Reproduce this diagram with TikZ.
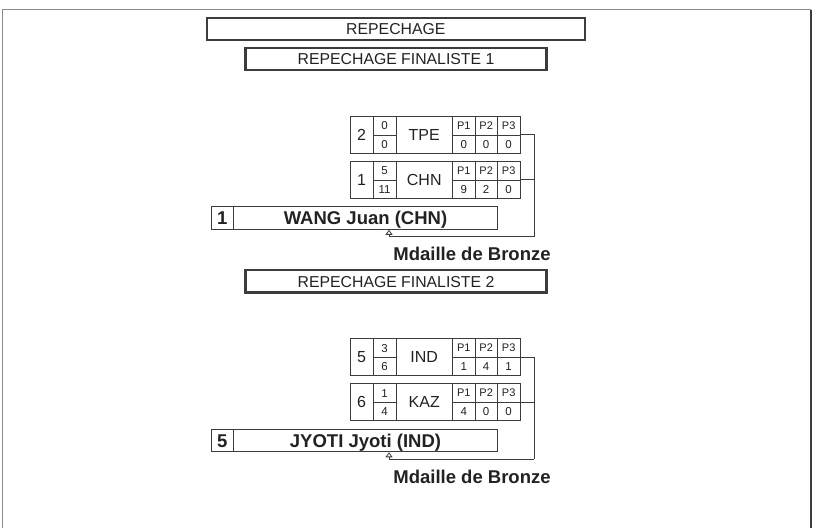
\documentclass[tikz,border=0pt]{standalone}
\usepackage{fontspec}
\setmainfont{Liberation Sans}
\usetikzlibrary{arrows.meta}
\definecolor{ln}{HTML}{3C3C3C}
\definecolor{tx}{HTML}{222222}
\definecolor{fr}{HTML}{8A8A8A}
\tikzset{
 hdr/.style={draw=ln, line width=2.2pt, inner sep=0pt, font=\fontsize{15.8}{18}\selectfont, text=tx, text height=11.3pt, text depth=0pt},
 tbl/.style={draw=ln, line width=0.9pt, inner sep=0pt, minimum width=170pt, minimum height=37.3pt},
 cell/.style={line width=0.9pt, draw=ln},
 big/.style={inner sep=0pt, font=\fontsize{16}{18}\selectfont, text=tx, text height=11.5pt, text depth=0pt},
 sml/.style={inner sep=0pt, font=\fontsize{11.5}{13}\selectfont, text=tx, text height=8.2pt, text depth=0pt},
 hsml/.style={inner sep=0pt, font=\fontsize{11}{13}\selectfont, text=tx, text height=7.9pt, text depth=0pt},
 bold/.style={inner sep=0pt, font=\bfseries\fontsize{18.5}{21}\selectfont, text=tx, text height=13.2pt, text depth=0pt},
 namebox/.style={draw=ln, line width=0.9pt, inner sep=0pt, minimum height=22.6pt, font=\bfseries\fontsize{18.5}{21}\selectfont, text=tx, text height=13.2pt, text depth=0pt},
 conn/.style={draw=ln, line width=0.9pt},
 tip/.style={-{Triangle[open,width=7pt,length=5pt,line width=0.8pt]}},
}
% #1 name, #2 top y, #3 seed, #4 s1, #5 s2, #6 code, #7 p1, #8 p2, #9 p3
\newcommand\mtable[9]{%
 \node[tbl] (#1) at (435,#2+18.65) {};
 \draw[cell] (373,#2) -- (373,#2+37.3) (396,#2) -- (396,#2+37.3)
   (452.5,#2) -- (452.5,#2+37.3) (475,#2) -- (475,#2+37.3) (497.3,#2) -- (497.3,#2+37.3);
 \draw[cell] (373,#2+19) -- (396,#2+19) (452.5,#2+19) -- (520,#2+19);
 \node[big] (#1-seed) at (361.5,#2+18.65) {#3};
 \node[sml] (#1-s1) at (384.5,#2+9.5) {#4};
 \node[sml] (#1-s2) at (384.5,#2+28.2) {#5};
 \node[big] (#1-code) at (424.25,#2+18.65) {#6};
 \node[hsml] (#1-h1) at (463.75,#2+9.5) {P1};
 \node[hsml] (#1-h2) at (486.15,#2+9.5) {P2};
 \node[hsml] (#1-h3) at (508.65,#2+9.5) {P3};
 \node[sml] (#1-p1) at (463.75,#2+28.2) {#7};
 \node[sml] (#1-p2) at (486.15,#2+28.2) {#8};
 \node[sml] (#1-p3) at (508.65,#2+28.2) {#9};
}
\begin{document}
\begin{tikzpicture}[x=1pt,y=-1pt]
\useasboundingbox (0,0) rectangle (815,528);
% outer frame
\draw[fr, line width=1.5pt] (2.7,528) -- (2.7,9.5) -- (810.5,9.5);
\draw[ln, line width=1.5pt] (810.8,9.5) -- (810.8,528);
% headers
\node[hdr, minimum width=377.5pt, minimum height=22.2pt] (rep) at (395.85,28.85) {REPECHAGE};
\node[hdr, minimum width=301pt, minimum height=22.2pt] (rf1) at (396,58.85) {REPECHAGE FINALISTE 1};
\node[hdr, minimum width=301pt, minimum height=22.2pt] (rf2) at (396,281.35) {REPECHAGE FINALISTE 2};
% section 1
\mtable{tpe}{116}{2}{0}{0}{TPE}{0}{0}{0}
\mtable{chn}{161}{1}{5}{11}{CHN}{9}{2}{0}
\node[namebox, minimum width=22.3pt] (num1) at (222.15,218) {1};
\node[namebox, minimum width=264.4pt] (nm1) at (365.5,218) {WANG Juan (CHN)};
\coordinate (c1) at (534,236.7);
\coordinate (a1) at (389,236.7);
\draw[conn] (tpe.east) -| (c1);
\draw[conn] (chn.east) -- (chn.east -| c1);
\draw[conn, tip] (c1) -- (a1) -- (a1 |- nm1.south);
\node[bold] (med1) at (472,254) {Mdaille de Bronze};
% section 2
\mtable{ind}{338.5}{5}{3}{6}{IND}{1}{4}{1}
\mtable{kaz}{383.5}{6}{1}{4}{KAZ}{4}{0}{0}
\node[namebox, minimum width=22.3pt] (num2) at (222.15,440.5) {5};
\node[namebox, minimum width=264.4pt] (nm2) at (365.5,440.5) {JYOTI Jyoti (IND)};
\coordinate (c2) at (534,459.2);
\coordinate (a2) at (389,459.2);
\draw[conn] (ind.east) -| (c2);
\draw[conn] (kaz.east) -- (kaz.east -| c2);
\draw[conn, tip] (c2) -- (a2) -- (a2 |- nm2.south);
\node[bold] (med2) at (472,476.5) {Mdaille de Bronze};
\end{tikzpicture}
\end{document}
